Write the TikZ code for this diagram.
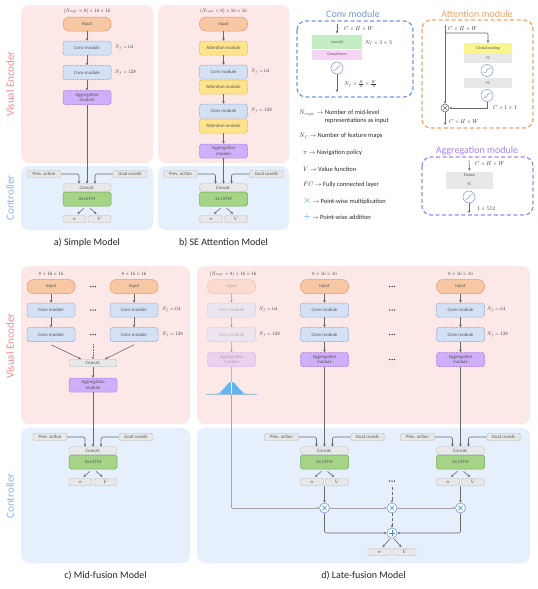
\RequirePackage{fix-cm}
\documentclass[tikz,border=0pt]{standalone}
\usepackage{graphicx}
\usepackage{fontspec}
\setmainfont{Carlito}
\usetikzlibrary{arrows.meta,calc}
\definecolor{pinkbg}{RGB}{253,232,232}
\definecolor{bluebg}{RGB}{230,239,252}
\definecolor{inpfill}{RGB}{248,200,165}
\definecolor{inpdraw}{RGB}{232,150,100}
\definecolor{convfill}{RGB}{212,225,245}
\definecolor{convdraw}{RGB}{120,150,210}
\definecolor{attfill}{RGB}{255,228,140}
\definecolor{attdraw}{RGB}{215,175,50}
\definecolor{aggfill}{RGB}{208,175,250}
\definecolor{aggdraw}{RGB}{150,100,225}
\definecolor{grayfill}{RGB}{232,232,232}
\definecolor{graydraw}{RGB}{185,185,185}
\definecolor{lstmfill}{RGB}{165,212,135}
\definecolor{lstmdraw}{RGB}{110,170,80}
\definecolor{arrowc}{RGB}{105,105,105}
\definecolor{lightarr}{RGB}{165,165,165}
\definecolor{vetext}{RGB}{245,140,140}
\definecolor{cttext}{RGB}{140,180,240}
\definecolor{convleg}{RGB}{120,150,220}
\definecolor{opblue}{RGB}{60,140,225}
\definecolor{attleg}{RGB}{240,165,110}
\definecolor{aggleg}{RGB}{165,135,240}
\definecolor{txtc}{RGB}{85,85,85}
\definecolor{lgtxt}{RGB}{45,45,45}
\definecolor{c2dfill}{RGB}{195,238,195}
\definecolor{gnfill}{RGB}{245,212,245}
\definecolor{gpfill}{RGB}{250,245,140}
\definecolor{gaussa}{RGB}{170,215,245}
\definecolor{gaussb}{RGB}{100,180,238}
\newcommand\fbx{\fontsize{4.8}{5.4}\selectfont}
\newcommand\fsm{\fontsize{4}{4.5}\selectfont}
\newcommand\ften{\fontsize{10}{12}\selectfont}
\newcommand\ftitle{\fontsize{10}{12}\selectfont}
\newcommand\fcap{\fontsize{10}{12}\selectfont}
\newcommand\fvl{\fontsize{11}{13}\selectfont}
% scaled 10pt design so that math keeps its normal proportions
\newcommand\mS[1]{\scalebox{0.5}{\ften$#1$}}
\newcommand\mL[1]{\scalebox{0.56}{\ften$#1$}}
\newcommand\lgS[1]{\scalebox{0.65}{\ften #1}}
\tikzset{
 bx/.style={rectangle, rounded corners=1.8pt, minimum width=48pt, minimum height=14pt, inner sep=0pt, align=center, font=\fbx, text=txtc, line width=0.5pt},
 inp/.style={bx, rounded corners=6.5pt, fill=inpfill, draw=inpdraw},
 conv/.style={bx, fill=convfill, draw=convdraw, dash pattern=on 1.5pt off 1pt},
 att/.style={bx, fill=attfill, draw=attdraw, dash pattern=on 1.5pt off 1pt},
 agg/.style={bx, fill=aggfill, draw=aggdraw, dash pattern=on 1.5pt off 1pt},
 gbox/.style={bx, fill=grayfill, draw=graydraw, minimum height=7.5pt, line width=0.4pt},
 sbox/.style={gbox, minimum width=34pt},
 pv/.style={gbox, minimum width=23pt},
 lstm/.style={bx, fill=lstmfill, draw=lstmdraw},
 lgbox/.style={rectangle, inner sep=0pt, font=\fsm, text=txtc, minimum width=48pt},
 arr/.style={draw=arrowc, line width=0.6pt, -{Stealth[length=2.6pt,width=2.6pt]}},
 larr/.style={draw=lightarr, line width=0.5pt, -{Stealth[length=2.6pt,width=2.6pt]}},
 ln/.style={draw=arrowc, line width=0.6pt},
 mlbl/.style={inner sep=0pt, text=lgtxt},
 lgt/.style={inner sep=0pt, text=lgtxt, anchor=west},
 vlbl/.style={rotate=90, font=\fvl, inner sep=0pt},
 captxt/.style={font=\fcap, inner sep=0pt, text=black!85},
 ttl/.style={font=\ftitle, inner sep=0pt},
 act/.style={circle, draw=convleg, fill=white, minimum size=12pt, inner sep=0pt, line width=0.5pt},
 opc/.style={circle, draw=convleg, fill=white, minimum size=10pt, inner sep=0pt, line width=0.6pt},
 faded/.style={opacity=0.4},
 legbox/.style={line width=1.2pt, dash pattern=on 4pt off 2.5pt, rounded corners=9pt},
 tdots/.pic={\foreach \i in {-2.3,0,2.3} \fill[black!80] (\i,0) circle (0.75pt);},
}
\newcommand\sigc[1]{\draw[convleg, line width=0.5pt] ($(#1)+(-3.5,2.5)$) .. controls ($(#1)+(0.8,2.5)$) and ($(#1)+(-0.8,-2.5)$) .. ($(#1)+(3.5,-2.5)$);}
\newcommand\mulsym[2]{\draw[#2, line width=0.6pt] ($(#1)+(-2.2,-2.2)$) -- ($(#1)+(2.2,2.2)$) ($(#1)+(-2.2,2.2)$) -- ($(#1)+(2.2,-2.2)$);}
\newcommand\addsym[1]{\draw[opblue, line width=0.7pt] ($(#1)+(-3,0)$) -- ($(#1)+(3,0)$) ($(#1)+(0,-3)$) -- ($(#1)+(0,3)$);}
\newcommand\mkctrl[3]{%
 \node[sbox] (#1pa) at (#2-43,#3) {Prev. action};
 \node[sbox] (#1gc) at (#2+43,#3) {Goal coords};
 \node[gbox] (#1cc) at (#2,#3+13.5) {Concat.};
 \node[lstm] (#1ls) at (#2,#3+25) {2x LSTM};
 \node[pv] (#1pi) at (#2-12.5,#3+45) {$\pi$};
 \node[pv] (#1v) at (#2+12.5,#3+45) {$V$};
 \draw[arr, rounded corners=2pt] (#1pa.east) -| ([xshift=-8pt]#1cc.north);
 \draw[arr, rounded corners=2pt] (#1gc.west) -| ([xshift=8pt]#1cc.north);
 \draw[arr] ([shift={(-3,2)}]#1ls.south) -- ([shift={(3,-1.2)}]#1pi.north);
 \draw[arr] ([shift={(3,2)}]#1ls.south) -- ([shift={(-3,-1.2)}]#1v.north);
}
\begin{document}
\begin{tikzpicture}[x=1pt,y=-1pt]
\useasboundingbox (0,0) rectangle (538,589);
\fill[white] (0,0) rectangle (538,589);

% ---------- panel a ----------
\fill[pinkbg, rounded corners=8pt] (21,5) rectangle (153,163);
\fill[bluebg, rounded corners=8pt] (21,166) rectangle (153,230);
\node[vlbl, text=vetext] at (10,84) {Visual Encoder};
\node[vlbl, text=cttext] at (10,198) {Controller};
\node[mlbl] at (87,11) {\mS{(N_{repr}\times 8)\times 16\times 16}};
\node[inp] (ai) at (87,24) {Input};
\node[conv] (ac1) at (87,48) {Conv module};
\node[conv] (ac2) at (87,72.5) {Conv module};
\node[agg] (aag) at (87,97.5) {Aggregation\\module};
\node[mlbl, anchor=west] at (115,48) {\mS{N_f=64}};
\node[mlbl, anchor=west] at (115,72.5) {\mS{N_f=128}};
\draw[arr] (ai) -- (ac1);
\draw[arr] (ac1) -- (ac2);
\draw[arr] (ac2) -- (aag);
\mkctrl{a}{87}{174}
\draw[arr] (aag) -- (acc);
\node[captxt] at (87,243) {a) Simple Model};

% ---------- panel b ----------
\fill[pinkbg, rounded corners=8pt] (158,5) rectangle (289,163);
\fill[bluebg, rounded corners=8pt] (158,166) rectangle (289,230);
\node[mlbl] at (223.5,11) {\mS{(N_{repr}\times 8)\times 16\times 16}};
\node[inp] (bi) at (223.5,24) {Input};
\node[att] (ba1) at (223.5,48) {Attention module};
\node[conv] (bc1) at (223.5,72) {Conv module};
\node[att] (ba2) at (223.5,87) {Attention module};
\node[conv] (bc2) at (223.5,111) {Conv module};
\node[att] (ba3) at (223.5,126) {Attention module};
\node[agg] (bag) at (223.5,151) {Aggregation\\module};
\node[mlbl, anchor=west] at (251,72) {\mS{N_f=64}};
\node[mlbl, anchor=west] at (251,111) {\mS{N_f=128}};
\draw[arr] (bi) -- (ba1);
\draw[arr] (ba1) -- (bc1);
\draw[arr] (ba2) -- (bc2);
\draw[arr] (ba3) -- (bag);
\mkctrl{b}{223.5}{174}
\draw[arr] (bag) -- (bcc);
\node[captxt] at (223.5,243) {b) SE Attention Model};

% ---------- Conv module legend ----------
\node[ttl, text=convleg] at (353,14) {Conv module};
\draw[convleg, legbox] (297,21) rectangle (413,97);
\node[lgbox, fill=c2dfill, minimum width=50pt, minimum height=14pt] (c2d) at (337,42) {Conv2d};
\node[lgbox, fill=gnfill, minimum width=50pt, minimum height=10pt] (gn) at (337,55) {GroupNorm};
\coordinate (cin) at (337,24);
\draw[arr, shorten >=1.5pt] (cin) -- (c2d.north);
\node[mlbl, anchor=west] at (344,29) {\mL{C\times H\times W}};
\node[mlbl, anchor=west] at (365,43) {\mL{N_f\times 3\times 3}};
\node[act] (cs) at (337,68) {};
\sigc{cs}
\coordinate (cout) at (337,92);
\draw[arr] (cs) -- (cout);
\node[mlbl, anchor=west] at (344,84) {\mL{N_f\times\frac{H}{2}\times\frac{W}{2}}};

% ---------- Attention module legend ----------
\node[ttl, text=attleg] at (477,14) {Attention module};
\draw[attleg, legbox] (422,20) rectangle (533,128);
\node[lgbox, fill=gpfill, minimum height=10pt] (gp) at (488,48) {Global pooling};
\node[lgbox, fill=grayfill, minimum height=10pt] (fc1) at (488,58) {FC};
\node[act] (as1) at (487,70.5) {};
\sigc{as1}
\node[lgbox, fill=grayfill, minimum height=10pt] (fc2) at (488,83) {FC};
\node[act] (as2) at (487,95.5) {};
\sigc{as2}
\node[opc, draw=arrowc, minimum size=8pt] (amul) at (445,108) {};
\mulsym{amul}{arrowc}
\coordinate (ain) at (445,25);
\coordinate (abr) at (445,33);
\coordinate (aout) at (445,125);
\draw[arr] (ain) -- (amul);
\draw[arr, rounded corners=1pt] (abr) -| (gp.north);
\draw[arr] (as2.south) |- (amul.east);
\draw[arr] (amul) -- (aout);
\node[mlbl, anchor=west] at (448,29) {\mL{C\times H\times W}};
\node[mlbl, anchor=west] at (493,108) {\mL{C\times 1\times 1}};
\node[mlbl, anchor=west] at (449,122) {\mL{C\times H\times W}};

% ---------- Aggregation module legend ----------
\node[ttl, text=aggleg] at (477,150.5) {Aggregation module};
\draw[aggleg, legbox] (422,157) rectangle (533,215);
\node[lgbox, fill=grayfill, minimum width=47pt, minimum height=7pt] (fl) at (469.5,175.5) {Flatten};
\node[lgbox, fill=grayfill, minimum width=47pt, minimum height=10pt] (fc3) at (469.5,184) {FC};
\coordinate (gin) at (469,160);
\draw[arr, shorten >=1pt] (gin) -- (fl.north);
\node[mlbl, anchor=west] at (475,164) {\mL{C\times H\times W}};
\node[act] (gs) at (469,197) {};
\sigc{gs}
\coordinate (gout) at (469,213);
\draw[arr] (gs) -- (gout);
\node[mlbl, anchor=west] at (477,209) {\mL{1\times 512}};

% ---------- symbol legend ----------
\node[lgt] at (299,117) {\lgS{\begin{tabular}{@{}l@{\ }l@{}}$N_{repr}\rightarrow$ & Number of mid-level\\[-1pt] & representations as input\end{tabular}}};
\node[lgt] at (299,136) {\lgS{$N_f\rightarrow$ Number of feature maps}};
\node[lgt] at (303,153) {\lgS{$\pi\rightarrow$ Navigation policy}};
\node[lgt] at (303,169) {\lgS{$V\rightarrow$ Value function}};
\node[lgt] at (303,185) {\lgS{$FC\rightarrow$ Fully connected layer}};
\node[lgt] at (303,201) {\lgS{{\color{opblue}\fontsize{16}{16}\selectfont$\times$}\ $\rightarrow$ Point-wise multiplication}};
\node[lgt] at (303,217) {\lgS{{\color{opblue}\fontsize{16}{16}\selectfont$+$}\,$\rightarrow$ Point-wise addition}};

% ---------- panel c ----------
\fill[pinkbg, rounded corners=8pt] (21,266) rectangle (190,424);
\fill[bluebg, rounded corners=8pt] (21,428) rectangle (190,563);
\node[vlbl, text=vetext] at (10,346) {Visual Encoder};
\node[vlbl, text=cttext] at (10,496) {Controller};
\node[mlbl] at (51,274) {\mS{8\times 16\times 16}};
\node[mlbl] at (134,274) {\mS{8\times 16\times 16}};
\node[inp] (cil) at (51,286.5) {Input};
\node[inp] (cir) at (134,286.5) {Input};
\node[conv] (cl1) at (51,310) {Conv module};
\node[conv] (cr1) at (134,310) {Conv module};
\node[conv] (cl2) at (51,334.5) {Conv module};
\node[conv] (cr2) at (134,334.5) {Conv module};
\pic at (93,286.5) {tdots};
\pic at (93,310) {tdots};
\pic at (93,334.5) {tdots};
\node[mlbl, anchor=west] at (162,310) {\mS{N_f=64}};
\node[mlbl, anchor=west] at (162,334.5) {\mS{N_f=128}};
\draw[arr] (cil) -- (cl1);
\draw[arr] (cl1) -- (cl2);
\draw[arr] (cir) -- (cr1);
\draw[arr] (cr1) -- (cr2);
\node[gbox] (ccat) at (93,363) {Concat.};
\node[agg] (cag) at (93,385) {Aggregation\\module};
\coordinate (cmid) at (93,344);
\draw[arr] ([yshift=-3pt]cl2.south) -- ([xshift=-12pt]ccat.north);
\draw[arr] ([yshift=-3pt]cr2.south) -- ([xshift=12pt]ccat.north);
\draw[arr, densely dotted] (cmid) -- (ccat.north);
\draw[arr] (ccat) -- (cag);
\mkctrl{c}{93}{437}
\draw[arr] (cag) -- (ccc);
\node[captxt] at (105.5,576) {c) Mid-fusion Model};

% ---------- panel d ----------
\fill[pinkbg, rounded corners=8pt] (197,266) rectangle (530,424);
\fill[bluebg, rounded corners=8pt] (197,428) rectangle (530,563);
% column 1 (faded)
\node[mlbl] at (233,274) {\mS{(N_{repr}\times 8)\times 16\times 16}};
\node[inp, faded] (di1) at (231.5,286.5) {Input};
\node[conv, faded] (dc11) at (231.5,310) {Conv module};
\node[conv, faded] (dc12) at (231.5,334.5) {Conv module};
\node[agg, faded] (dag1) at (231.5,359.5) {Aggregation\\module};
\node[mlbl, anchor=west] at (259,310) {\mS{N_f=64}};
\node[mlbl, anchor=west] at (259,334.5) {\mS{N_f=128}};
\draw[arr, faded] (di1) -- (dc11);
\draw[arr, faded] (dc11) -- (dc12);
\draw[arr, faded] (dc12) -- (dag1);
\coordinate (gtop) at (231.5,382);
\coordinate (gbot) at (231.5,394);
\draw[ln, faded] (dag1) -- (gtop);
\fill[gaussa] plot[domain=-24:24, samples=60] ({231.5+\x},{394-12*exp(-(\x/8.5)^2)}) -- cycle;
\fill[gaussb] plot[domain=-11:11, samples=40] ({231.5+\x},{394-12*exp(-(\x/8.5)^2)}) -- (242.5,394) -- (220.5,394) -- cycle;
\draw[white, line width=0.5pt] (gbot) -- (gtop);
\draw[gaussa!70!gray, line width=0.4pt] (206,394) -- (257,394);
% column 2
\node[mlbl] at (324.5,274) {\mS{8\times 16\times 16}};
\node[inp] (di2) at (324.5,286.5) {Input};
\node[conv] (dc21) at (324.5,310) {Conv module};
\node[conv] (dc22) at (324.5,334.5) {Conv module};
\node[agg] (dag2) at (324.5,359.5) {Aggregation\\module};
\draw[arr] (di2) -- (dc21);
\draw[arr] (dc21) -- (dc22);
\draw[arr] (dc22) -- (dag2);
% column 3
\node[mlbl] at (460.5,274) {\mS{8\times 16\times 16}};
\node[inp] (di3) at (460.5,286.5) {Input};
\node[conv] (dc31) at (460.5,310) {Conv module};
\node[conv] (dc32) at (460.5,334.5) {Conv module};
\node[agg] (dag3) at (460.5,359.5) {Aggregation\\module};
\node[mlbl, anchor=west] at (487,310) {\mS{N_f=64}};
\node[mlbl, anchor=west] at (487,334.5) {\mS{N_f=128}};
\draw[arr] (di3) -- (dc31);
\draw[arr] (dc31) -- (dc32);
\draw[arr] (dc32) -- (dag3);
% dots
\pic at (392,286.5) {tdots};
\pic at (392,310) {tdots};
\pic at (392,334.5) {tdots};
\pic at (392,359.5) {tdots};
\pic at (392,481) {tdots};
% controllers
\mkctrl{dd}{324.5}{437}
\mkctrl{de}{460.5}{437}
\draw[arr] (dag2) -- (ddcc);
\draw[arr] (dag3) -- (decc);
% fusion
\node[opc] (x2) at (324.5,508) {};
\mulsym{x2}{opblue}
\node[opc] (xm) at (392,508) {};
\mulsym{xm}{opblue}
\node[opc] (x3) at (460.5,508) {};
\mulsym{x3}{opblue}
\node[opc] (pl) at (392,533) {};
\addsym{pl}
\node[pv] (fpi) at (379.5,552) {$\pi$};
\node[pv] (fv) at (404.5,552) {$V$};
\coordinate (gl) at (231.5,508);
\coordinate (xmt) at (392,487);
\draw[draw=lightarr, line width=0.5pt] (gbot) -- (gl);
\draw[larr] (gl) -- (x2);
\draw[larr] (x2) -- (xm);
\draw[larr] (xm) -- (x3);
\draw[arr] ($(ddpi.south east)!0.5!(ddv.south west)$) -- (x2);
\draw[arr] ($(depi.south east)!0.5!(dev.south west)$) -- (x3);
\draw[arr, densely dashed] (xmt) -- (xm);
\draw[arr, rounded corners=2pt] (x2) |- (pl);
\draw[arr, rounded corners=2pt] (x3) |- (pl);
\draw[arr, densely dashed] (xm) -- (pl);
\draw[arr] ([shift={(-2,0.5)}]pl.south) -- ([shift={(3,-1)}]fpi.north);
\draw[arr] ([shift={(2,0.5)}]pl.south) -- ([shift={(-3,-1)}]fv.north);
\node[captxt] at (363.5,576) {d) Late-fusion Model};
\end{tikzpicture}
\end{document}
